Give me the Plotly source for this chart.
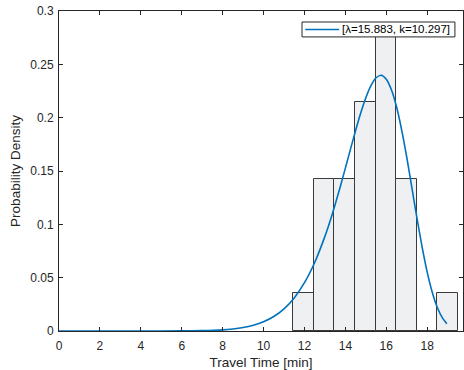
import plotly.graph_objects as go

# Histogram (probability density)
bin_edges = [11.44, 12.45, 13.46, 14.47, 15.48, 16.48, 17.49, 18.49, 19.50]
density = [0.0357, 0.1429, 0.1429, 0.2143, 0.2857, 0.1429, 0.0, 0.0357]

# Fitted Weibull curve
curve_x = [0, 2, 4, 6, 7, 8, 8.5, 9, 9.5, 10, 10.5, 11, 11.5, 12, 12.5, 13, 13.25, 13.5,
           13.75, 14, 14.25, 14.5, 14.75, 15, 15.25, 15.5, 15.75, 16, 16.25, 16.5, 16.75,
           17, 17.25, 17.5, 17.75, 18, 18.25, 18.5, 18.75, 18.96]
curve_y = [0.0, 0.0, 0.0, 0.00008, 0.00032, 0.0011, 0.00194, 0.00328, 0.00544, 0.00871,
           0.01362, 0.02082, 0.03104, 0.04527, 0.06426, 0.0887, 0.1029, 0.1186, 0.1353,
           0.1527, 0.1705, 0.1879, 0.2043, 0.2187, 0.2300, 0.2374, 0.2397, 0.2361, 0.2262,
           0.2102, 0.1886, 0.1629, 0.1345, 0.1059, 0.0789, 0.0552, 0.0361, 0.02182, 0.0121,
           0.00687]
legend_label = "[\u03bb=15.883, k=10.297]"

x_ticks = [0, 2, 4, 6, 8, 10, 12, 14, 16, 18]
y_ticks = [0, 0.05, 0.1, 0.15, 0.2, 0.25, 0.3]
y_tick_text = ["0", "0.05", "0.1", "0.15", "0.2", "0.25", "0.3"]

centers = [(a + b) / 2 for a, b in zip(bin_edges[:-1], bin_edges[1:])]
widths = [b - a for a, b in zip(bin_edges[:-1], bin_edges[1:])]

axis_col = "#262626"
line_col = "#0072BD"
font_family = "Liberation Sans, Arial, Helvetica, sans-serif"

fig = go.Figure()
fig.add_trace(go.Bar(
    x=centers, y=density, width=widths,
    marker=dict(color="#eef0f2", line=dict(color="#3a3a3a", width=1)),
    showlegend=False, hoverinfo="skip",
))
fig.add_trace(go.Scatter(
    x=curve_x, y=curve_y, mode="lines", name=legend_label,
    line=dict(color=line_col, width=1.6, shape="spline", smoothing=0.6),
    showlegend=False,
))

# Compact MATLAB-style legend box in the top-right corner
lg_x0, lg_x1, lg_y0, lg_y1 = 0.6015, 0.980, 0.919, 0.9656
lg_mid = (lg_y0 + lg_y1) / 2
fig.add_shape(type="rect", xref="paper", yref="paper", x0=lg_x0, x1=lg_x1, y0=lg_y0, y1=lg_y1,
              fillcolor="white", line=dict(color=axis_col, width=1), layer="above")
fig.add_shape(type="line", xref="paper", yref="paper", x0=lg_x0 + 0.008, x1=lg_x0 + 0.092,
              y0=lg_mid, y1=lg_mid, line=dict(color=line_col, width=1.6), layer="above")
fig.add_annotation(xref="paper", yref="paper", x=lg_x0 + 0.094, y=lg_mid,
                   xanchor="left", yanchor="middle", showarrow=False,
                   text=legend_label, font=dict(size=11.5, color="#000000"))

fig.update_layout(
    width=464, height=370,
    margin=dict(l=59, r=1, t=11, b=39),
    paper_bgcolor="white", plot_bgcolor="white",
    font=dict(family=font_family, size=12, color=axis_col),
    bargap=0,
    showlegend=False,
    xaxis=dict(
        range=[0, 19.75], tickvals=x_ticks, ticks="inside", ticklen=4,
        tickcolor=axis_col, showline=True, linecolor=axis_col, linewidth=1,
        mirror="ticks", showgrid=False, zeroline=False,
        tickfont=dict(size=12, color=axis_col), ticklabelstandoff=4,
        title=dict(text="Travel Time [min]", font=dict(size=13.5, color=axis_col), standoff=6),
    ),
    yaxis=dict(
        range=[0, 0.3], tickvals=y_ticks, ticktext=y_tick_text, ticks="inside", ticklen=4,
        tickcolor=axis_col, showline=True, linecolor=axis_col, linewidth=1,
        mirror="ticks", showgrid=False, zeroline=False,
        tickfont=dict(size=12, color=axis_col), ticklabelstandoff=2,
        title=dict(text="Probability Density", font=dict(size=13.5, color=axis_col), standoff=6),
    ),
)

fig.write_html("out.html")
